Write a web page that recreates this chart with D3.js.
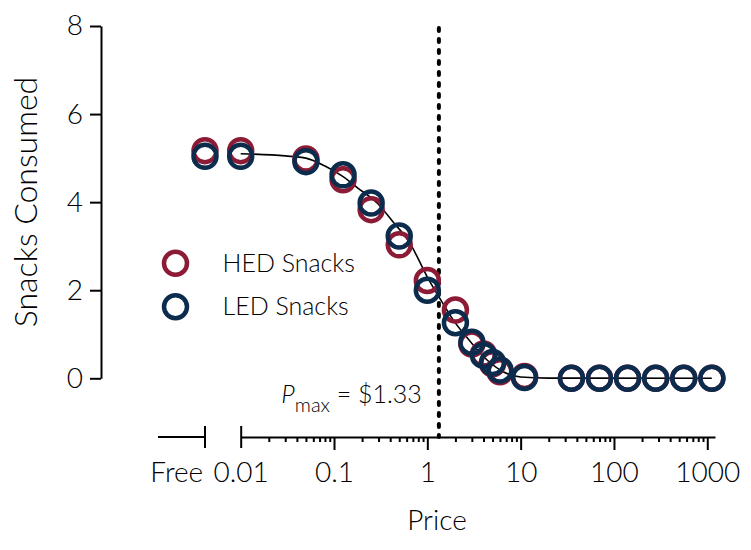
<!DOCTYPE html>
<html>
<head>
<meta charset="utf-8">
<script src="https://cdn.jsdelivr.net/npm/d3@7"></script>
<style>
  body { margin: 0; background: #fff; }
  svg { display: block; font-family: Lato, 'Open Sans', sans-serif; font-weight: 300; }
</style>
</head>
<body>
<svg id="chart" width="751" height="550"></svg>
<script>
// prices offered; 'Free' sits on its own axis segment
const prices = ['Free', 0.01, 0.05, 0.125, 0.25, 0.5, 1, 2, 3, 4, 5, 6, 11, 35, 70, 140, 280, 560, 1120];
const hedValues = [5.17, 5.17, 4.98, 4.51, 3.83, 3.03, 2.22, 1.55, 0.78, 0.55, 0.33, 0.15, 0.04, 0, 0, 0, 0, 0, 0];
const ledValues = [5.04, 5.04, 4.92, 4.62, 3.98, 3.23, 2.0, 1.26, 0.82, 0.52, 0.36, 0.19, 0.02, 0, 0, 0, 0, 0, 0];

// fitted demand curve
const fitPrices = [0.01, 0.03, 0.05, 0.08, 0.125, 0.18, 0.29, 0.43, 0.65, 1, 1.33, 1.9, 2.9, 4.4, 6.5, 10, 20, 1120];
const fitValues = [5.1, 5.05, 5.0, 4.82, 4.58, 4.32, 3.98, 3.55, 3.07, 2.3, 1.85, 1.32, 0.83, 0.41, 0.15, 0.03, 0.005, 0];

const majorTicks = [0.01, 0.1, 1, 10, 100, 1000];
const yTicks = [0, 2, 4, 6, 8];
const pmax = 1.33;

const series = [
  { name: 'HED Snacks', values: hedValues, color: '#8c1b36' },
  { name: 'LED Snacks', values: ledValues, color: '#0c2c4e' }
];

const svg = d3.select('#chart');

const axisY = 437;
const x = d3.scaleLog().domain([0.01, 1210]).range([240.7, 715]);
const xFree = d3.scaleLinear().domain([-1, 0]).range([158, 205]);
const y = d3.scaleLinear().domain([0, 8]).range([378.3, 26]);

const px = (p) => (p === 'Free' ? xFree(0) : x(p));

// y axis
const gy = svg.append('g')
  .attr('transform', 'translate(101,0)')
  .call(d3.axisLeft(y).tickValues(yTicks).tickSize(11).tickSizeOuter(0).tickPadding(7))
  .attr('font-family', null).attr('font-size', 28);
gy.selectAll('path, line').attr('stroke', '#000').attr('stroke-width', 2);
gy.selectAll('text').attr('fill', '#000');

svg.append('text')
  .attr('transform', 'translate(37,202) rotate(-90)')
  .attr('text-anchor', 'middle')
  .attr('font-size', 32)
  .text('Snacks Consumed');

// x axis: free segment
const gFree = svg.append('g').attr('transform', `translate(0,${axisY})`);
gFree.append('line')
  .attr('x1', xFree(-1)).attr('x2', xFree(0))
  .attr('stroke', '#000').attr('stroke-width', 2);
gFree.append('line')
  .attr('x1', xFree(0)).attr('x2', xFree(0)).attr('y1', -11).attr('y2', 11)
  .attr('stroke', '#000').attr('stroke-width', 2);
gFree.append('text')
  .attr('x', xFree(-0.6)).attr('y', 45)
  .attr('text-anchor', 'middle').attr('font-size', 28)
  .text('Free');

// x axis: log segment
const minorTicks = [];
majorTicks.slice(0, -1).forEach((d) => {
  for (let k = 2; k <= 9; k++) minorTicks.push(d * k);
});

const gxMinor = svg.append('g')
  .attr('transform', `translate(0,${axisY})`)
  .call(d3.axisBottom(x).tickValues(minorTicks).tickSize(5).tickSizeOuter(0).tickFormat(''));
gxMinor.select('.domain').remove();
gxMinor.selectAll('line').attr('stroke', '#000').attr('stroke-width', 2);

const gx = svg.append('g')
  .attr('transform', `translate(0,${axisY})`)
  .call(d3.axisBottom(x).tickValues(majorTicks).tickSize(13).tickSizeOuter(0)
    .tickFormat((d) => (d < 1 ? String(d) : d3.format('d')(d))))
  .attr('font-family', null).attr('font-size', 28);
gx.selectAll('path, line').attr('stroke', '#000').attr('stroke-width', 2);
gx.selectAll('text')
  .attr('fill', '#000')
  .attr('y', 45).attr('dy', 0);
// cap at the start of the log segment
gx.selectAll('.tick').filter((d) => d === 0.01).select('line')
  .attr('y1', -11).attr('y2', 11);

svg.append('text')
  .attr('x', 437).attr('y', 530)
  .attr('text-anchor', 'middle').attr('font-size', 28)
  .text('Price');

// Pmax marker
svg.append('line')
  .attr('x1', x(pmax)).attr('x2', x(pmax))
  .attr('y1', y(8) + 2).attr('y2', axisY)
  .attr('stroke', '#000').attr('stroke-width', 4)
  .attr('stroke-linecap', 'round')
  .attr('stroke-dasharray', '3,8');

const pLabel = svg.append('text')
  .attr('x', x(pmax) - 17).attr('y', 403)
  .attr('text-anchor', 'end').attr('font-size', 25);
pLabel.append('tspan').attr('font-style', 'italic').text('P');
pLabel.append('tspan').attr('font-size', 20).attr('dy', 9).text('max');
pLabel.append('tspan').attr('dy', -9).text(' = $' + pmax);

// fitted curve
const fitData = fitPrices.map((p, i) => ({ p, v: fitValues[i] }));
svg.append('path')
  .datum(fitData)
  .attr('fill', 'none')
  .attr('stroke', '#000')
  .attr('stroke-width', 1.6)
  .attr('d', d3.line().x((d) => x(d.p)).y((d) => y(d.v)).curve(d3.curveMonotoneX));

// points
series.forEach((s) => {
  svg.append('g')
    .selectAll('circle')
    .data(prices.map((p, i) => ({ p, v: s.values[i] })))
    .enter()
    .append('circle')
    .attr('cx', (d) => px(d.p))
    .attr('cy', (d) => y(d.v))
    .attr('r', 11.5)
    .attr('fill', 'none')
    .attr('stroke', s.color)
    .attr('stroke-width', 4.5);
});

// legend
const legend = svg.append('g')
  .selectAll('g')
  .data(series)
  .enter()
  .append('g')
  .attr('transform', (d, i) => `translate(175.5,${263.3 + i * 43.4})`);
legend.append('circle')
  .attr('r', 11.5)
  .attr('fill', 'none')
  .attr('stroke', (d) => d.color)
  .attr('stroke-width', 4.5);
legend.append('text')
  .attr('x', 47).attr('y', 8.5)
  .attr('font-size', 25)
  .text((d) => d.name);
</script>
</body>
</html>
